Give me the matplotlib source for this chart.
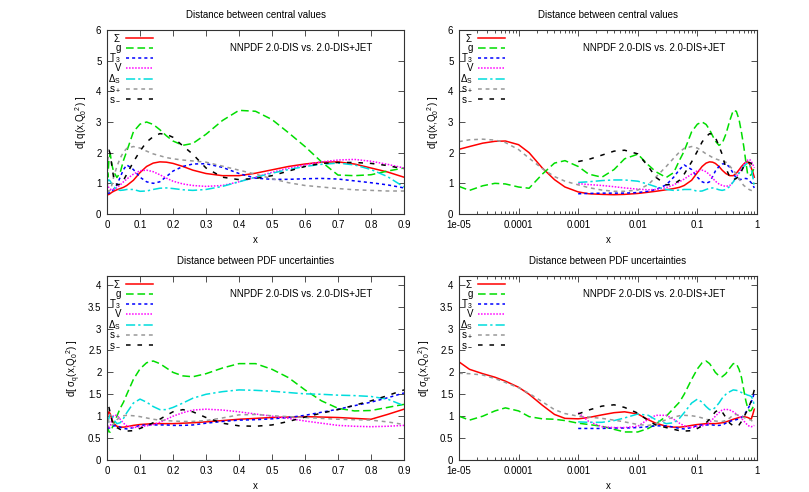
import numpy as np
import matplotlib
matplotlib.use("Agg")
import matplotlib.pyplot as plt
from matplotlib.ticker import MultipleLocator, FixedLocator, LogLocator, NullFormatter

plt.rcParams['font.family'] = ['Liberation Sans', 'DejaVu Sans']
plt.rcParams['mathtext.fontset'] = 'custom'
plt.rcParams['mathtext.rm'] = 'Liberation Sans'
plt.rcParams['mathtext.it'] = 'Liberation Sans'

nan = float('nan')

# common x grid
x = [1e-5, 1.5e-5, 2.5e-5, 4e-5, 6e-5, 1e-4, 1.5e-4, 2.5e-4, 4e-4, 6e-4,
     1e-3, 1.5e-3, 2.5e-3, 4e-3, 6e-3, 1e-2, 1.5e-2, 2e-2, 3e-2, 4e-2,
     5e-2, 6e-2, 8e-2, 0.1, 0.12, 0.14, 0.16, 0.18, 0.2, 0.23,
     0.26, 0.3, 0.35, 0.4, 0.45, 0.5, 0.55, 0.6, 0.65, 0.7,
     0.75, 0.8, 0.85, 0.9]

labels = [r'$\Sigma$', 'g', r'T$_3$', 'V', r'$\Delta_S$', r's$_+$', r's$_-$']

# distance between central values
cv_sigma = [2.11, 2.2, 2.31, 2.37, 2.38, 2.26, 2.0, 1.5, 1.12, 0.88,
            0.72, 0.66, 0.64, 0.63, 0.64, 0.67, 0.71, 0.74, 0.79, 0.83,
            0.87, 0.93, 1.1, 1.35, 1.55, 1.66, 1.70, 1.69, 1.65, 1.55,
            1.43, 1.32, 1.25, 1.25, 1.33, 1.44, 1.55, 1.63, 1.69, 1.70,
            1.63, 1.50, 1.37, 1.20]
cv_g = [0.9, 0.77, 0.92, 1.0, 0.98, 0.88, 0.84, 1.3, 1.66, 1.74,
        1.55, 1.3, 1.2, 1.45, 1.8, 1.95, 1.6, 1.38, 1.19, 1.35,
        1.75, 2.05, 2.68, 2.93, 3.0, 2.92, 2.75, 2.55, 2.38, 2.24,
        2.3, 2.6, 3.05, 3.38, 3.35, 3.08, 2.65, 2.2, 1.7, 1.27,
        1.25, 1.28, 1.4, 1.5]
cv_t3 = [nan] * 10 + [0.66, 0.67, 0.68, 0.68, 0.68, 0.70, 0.74, 0.80, 0.95, 1.2,
                      1.45, 1.6, 1.45, 1.2, 1.05, 1.0, 1.05, 1.22, 1.4, 1.55,
                      1.63, 1.64, 1.52, 1.32, 1.17, 1.13, 1.13, 1.15, 1.16, 1.14,
                      1.08, 1.02, 0.95, 0.85]
cv_v = [nan] * 10 + [0.99, 0.96, 0.93, 0.89, 0.85, 0.81, 0.79, 0.80, 0.86, 0.95,
                     1.05, 1.14, 1.3, 1.41, 1.43, 1.38, 1.28, 1.17, 1.07, 0.98,
                     0.93, 0.9, 0.93, 1.05, 1.2, 1.36, 1.49, 1.6, 1.7, 1.76,
                     1.78, 1.72, 1.62, 1.5]
cv_ds = [nan] * 10 + [1.03, 1.05, 1.09, 1.11, 1.11, 1.07, 0.97, 0.89, 0.8, 0.77,
                      0.78, 0.8, 0.8, 0.74, 0.75, 0.8, 0.84, 0.85, 0.83, 0.79,
                      0.77, 0.8, 0.9, 1.05, 1.2, 1.33, 1.45, 1.55, 1.62, 1.66,
                      1.6, 1.45, 1.22, 0.88]
cv_sp = [2.36, 2.42, 2.44, 2.41, 2.33, 2.1, 1.82, 1.48, 1.22, 1.07,
         0.95, 0.86, 0.78, 0.74, 0.74, 0.78, 0.96, 1.2, 1.55, 1.82,
         2.02, 2.14, 2.2, 2.15, 2.05, 1.96, 1.9, 1.84, 1.8, 1.76,
         1.73, 1.69, 1.56, 1.43, 1.3, 1.15, 1.02, 0.93, 0.88, 0.83,
         0.79, 0.77, 0.75, 0.75]
cv_sm = [nan] * 10 + [1.71, 1.78, 1.92, 2.05, 2.08, 1.96, 1.55, 1.2, 0.95, 0.97,
                      1.1, 1.3, 1.7, 2.05, 2.35, 2.52, 2.62, 2.6, 2.5, 2.22,
                      1.95, 1.5, 1.2, 1.12, 1.16, 1.25, 1.4, 1.55, 1.65, 1.68,
                      1.68, 1.65, 1.58, 1.47]

# distance between PDF uncertainties
un_sigma = [2.24, 2.07, 1.97, 1.89, 1.8, 1.66, 1.5, 1.25, 1.04, 0.95,
            0.94, 0.97, 1.03, 1.08, 1.1, 1.05, 0.92, 0.84, 0.77, 0.75,
            0.75, 0.76, 0.79, 0.81, 0.82, 0.83, 0.83, 0.83, 0.83, 0.84,
            0.85, 0.87, 0.9, 0.93, 0.95, 0.97, 0.98, 0.99, 0.98, 0.97,
            0.95, 0.93, 1.04, 1.16]
un_g = [1.0, 0.91, 1.0, 1.12, 1.19, 1.12, 0.99, 0.94, 0.93, 0.9,
        0.84, 0.81, 0.77, 0.7, 0.64, 0.64, 0.72, 0.82, 1.0, 1.18,
        1.32, 1.5, 1.84, 2.08, 2.22, 2.26, 2.2, 2.1, 2.0, 1.92,
        1.9, 1.97, 2.1, 2.2, 2.2, 2.07, 1.88, 1.6, 1.35, 1.18,
        1.12, 1.13, 1.2, 1.27]
un_t3 = [nan] * 10 + [0.72, 0.72, 0.72, 0.73, 0.73, 0.74, 0.76, 0.78, 0.78, 0.75,
                      0.72, 0.71, 0.74, 0.79, 0.8, 0.8, 0.8, 0.8, 0.79, 0.79,
                      0.8, 0.84, 0.88, 0.91, 0.92, 0.94, 0.97, 1.02, 1.09, 1.16,
                      1.24, 1.32, 1.42, 1.53]
un_v = [nan] * 10 + [1.08, 0.88, 0.76, 0.74, 0.74, 0.77, 0.93, 1.02, 1.02, 0.93,
                     0.84, 0.78, 0.74, 0.76, 0.78, 0.81, 0.86, 0.93, 1.0, 1.08,
                     1.14, 1.16, 1.14, 1.1, 1.05, 1.0, 0.95, 0.89, 0.84, 0.79,
                     0.77, 0.76, 0.77, 0.79]
un_ds = [nan] * 10 + [0.87, 0.86, 0.86, 0.9, 0.96, 1.05, 1.02, 0.92, 0.83, 0.85,
                      0.95, 1.08, 1.3, 1.39, 1.32, 1.22, 1.15, 1.15, 1.2, 1.3,
                      1.41, 1.5, 1.56, 1.6, 1.59, 1.57, 1.54, 1.51, 1.5, 1.48,
                      1.47, 1.45, 1.39, 1.24]
un_sp = [1.98, 1.97, 1.94, 1.86, 1.77, 1.65, 1.52, 1.33, 1.15, 1.06,
         1.0, 0.98, 0.95, 0.91, 0.87, 0.81, 0.79, 0.82, 0.92, 0.98,
         1.01, 1.02, 1.01, 0.99, 0.96, 0.93, 0.91, 0.9, 0.89, 0.88,
         0.88, 0.9, 0.96, 1.03, 1.04, 1.01, 0.99, 0.97, 0.95, 0.93,
         0.92, 0.91, 0.87, 0.81]
un_sm = [nan] * 10 + [1.05, 1.14, 1.23, 1.26, 1.2, 1.07, 0.9, 0.8, 0.74, 0.7,
                      0.67, 0.66, 0.67, 0.72, 0.78, 0.85, 0.93, 1.02, 1.1, 1.15,
                      1.1, 0.97, 0.84, 0.78, 0.77, 0.8, 0.88, 0.98, 1.07, 1.15,
                      1.25, 1.35, 1.47, 1.6]

central = [cv_sigma, cv_g, cv_t3, cv_v, cv_ds, cv_sp, cv_sm]
uncert = [un_sigma, un_g, un_t3, un_v, un_ds, un_sp, un_sm]

styles = [
    dict(color='#ff0000', ls='-'),
    dict(color='#00dd00', ls=(0, (5, 2.5))),
    dict(color='#0000ff', ls=(0, (2, 2))),
    dict(color='#ff00ff', ls=(0, (1, 1))),
    dict(color='#00dddd', ls=(0, (6, 2, 1.5, 2))),
    dict(color='#999999', ls=(0, (2.5, 2.5))),
    dict(color='#000000', ls=(0, (3, 4.5))),
]

fig = plt.figure(figsize=(8.09, 4.92), dpi=100)

W, H = 809.0, 492.0
boxes = {
    'tl': (107, 30, 404, 214),
    'tr': (459, 30, 757, 214),
    'bl': (107, 276, 404, 460),
    'br': (459, 276, 757, 460),
}

def make_ax(key):
    x0, y0, x1, y1 = boxes[key]
    return fig.add_axes([x0 / W, 1 - y1 / H, (x1 - x0) / W, (y1 - y0) / H])

fs = 7

def style_axes(ax, logx):
    for s in ax.spines.values():
        s.set_color('#333333')
        s.set_linewidth(0.8)
    ax.tick_params(which='both', direction='in', top=True, right=True,
                   labelsize=fs, pad=4, color='#333333')
    ax.tick_params(which='major', length=4, width=0.6)
    ax.tick_params(which='minor', length=2, width=0.6)
    if logx:
        ax.set_xscale('log')
        ax.set_xlim(1e-5, 1)
        ax.xaxis.set_major_locator(FixedLocator([1e-5, 1e-4, 1e-3, 1e-2, 1e-1, 1]))
        ax.set_xticklabels(['1e-05', '0.0001', '0.001', '0.01', '0.1', '1'])
        ax.xaxis.set_minor_locator(LogLocator(base=10, subs=np.arange(2, 10), numticks=20))
        ax.xaxis.set_minor_formatter(NullFormatter())
    else:
        ax.set_xlim(0, 0.9)
        ax.set_xticks(np.arange(0, 0.91, 0.1))
        ax.set_xticklabels(['0', '0.1', '0.2', '0.3', '0.4', '0.5', '0.6', '0.7', '0.8', '0.9'])
    ax.set_xlabel('x', fontsize=fs, labelpad=4)

def draw_key(ax):
    # gnuplot-style key: right-aligned labels followed by line samples
    axh = 184.0
    axw = 297.0
    tx = 121.0 / axw - 107.0 / axw
    lx0, lx1 = (126.0 - 107.0) / axw, (153.0 - 107.0) / axw
    for i, (lab, st) in enumerate(zip(labels, styles)):
        yy = 1 - (7.5 + 10.3 * i) / axh
        ax.text(tx, yy, lab, transform=ax.transAxes, ha='right', va='center', fontsize=fs)
        ax.plot([lx0, lx1], [yy, yy], transform=ax.transAxes, lw=1.1, clip_on=False, **st)

def draw(ax, data, logx, top):
    style_axes(ax, logx)
    for lab, y, st in zip(labels, data, styles):
        ax.plot(x, y, lw=1.1, label=lab, **st)
    if top:
        ax.set_ylim(0, 6)
        ax.yaxis.set_major_locator(MultipleLocator(1))
        ax.set_title('Distance between central values', fontsize=fs, pad=9)
        ax.set_ylabel(r'd[ q(x,Q$_0$$^2$) ]', fontsize=fs, labelpad=5)
    else:
        ax.set_ylim(0, 4.2)
        ax.set_yticks(np.arange(0, 4.01, 0.5))
        ax.set_yticklabels(['0', '0.5', '1', '1.5', '2', '2.5', '3', '3.5', '4'])
        ax.set_title('Distance between PDF uncertainties', fontsize=fs, pad=9)
        ax.set_ylabel(r'd[ $\sigma_q$(x,Q$_0$$^2$) ]', fontsize=fs, labelpad=4)
    ax.text(0.655, 0.9, 'NNPDF 2.0-DIS vs. 2.0-DIS+JET', transform=ax.transAxes,
            ha='center', va='center', fontsize=fs)
    draw_key(ax)

draw(make_ax('tl'), central, False, True)
draw(make_ax('tr'), central, True, True)
draw(make_ax('bl'), uncert, False, False)
draw(make_ax('br'), uncert, True, False)

fig.savefig('out.png', dpi=100)
